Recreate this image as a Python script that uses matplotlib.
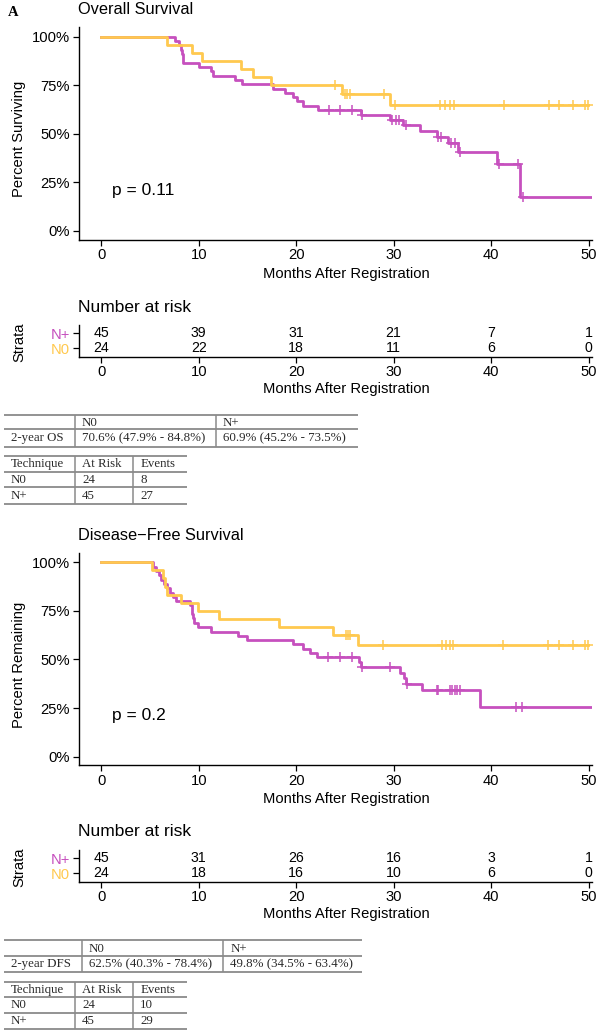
import numpy as np
import matplotlib.pyplot as plt

plt.rcParams["font.family"] = ["Liberation Sans", "DejaVu Sans"]

W, H = 600, 1032
YELLOW = "#FFC94F"
MAGENTA = "#C650BE"

# overall survival curves (step times / survival levels)
os_n0_time = [0, 6.7, 9.3, 10.3, 14.3, 15.6, 17.4, 24.7, 29.6]
os_n0_surv = [1.0, 0.958, 0.917, 0.875, 0.833, 0.792, 0.750, 0.706, 0.647]
os_n0_end = 49.9
os_n0_cens = [24.0, 25.0, 25.2, 25.5, 29.0, 30.1, 34.8, 35.3, 35.8, 36.2,
              41.3, 45.9, 47.0, 48.4, 49.6, 49.9]

os_np_time = [0, 7.6, 8.0, 8.2, 8.3, 8.35, 8.4, 10.0, 11.3, 11.45, 13.7, 14.4,
              17.6, 18.8, 19.7, 20.05, 20.7, 22.2, 26.6, 29.6, 31.0, 32.7,
              34.4, 35.6, 36.6, 40.6, 43.0]
os_np_surv = [1.0, 0.978, 0.956, 0.933, 0.911, 0.889, 0.867, 0.844, 0.822,
              0.800, 0.778, 0.756, 0.733, 0.711, 0.689, 0.667, 0.644, 0.622,
              0.597, 0.573, 0.546, 0.515, 0.484, 0.452, 0.405, 0.347, 0.174]
os_np_end = 50.5
os_np_cens = [23.4, 24.5, 25.7, 26.8, 29.8, 30.2, 30.5, 31.3, 34.6, 34.9,
              35.9, 36.3, 36.8, 40.8, 42.8, 43.3]

# disease-free survival curves
dfs_n0_time = [0, 5.2, 6.3, 6.55, 6.75, 8.2, 9.9, 12.1, 18.2, 23.8, 26.3]
dfs_n0_surv = [1.0, 0.958, 0.917, 0.875, 0.833, 0.792, 0.750, 0.708, 0.667,
               0.625, 0.573]
dfs_n0_end = 49.9
dfs_n0_cens = [25.1, 25.3, 25.5, 28.9, 35.0, 35.4, 35.8, 36.1, 41.2, 45.8,
               47.0, 48.4, 49.6, 49.9]

dfs_np_time = [0, 5.3, 5.6, 5.9, 6.1, 6.4, 6.7, 7.0, 7.3, 7.7, 9.1, 9.3, 9.35,
               9.4, 9.5, 9.95, 11.3, 14.06, 14.9, 19.7, 20.7, 21.4, 22.1, 26.4,
               26.6, 30.66, 31.1, 31.3, 32.9, 38.9]
dfs_np_surv = [1.0, 0.978, 0.956, 0.933, 0.911, 0.889, 0.867, 0.844, 0.822,
               0.800, 0.778, 0.756, 0.733, 0.711, 0.689, 0.667, 0.644, 0.622,
               0.600, 0.578, 0.556, 0.533, 0.511, 0.486, 0.460, 0.431, 0.403,
               0.374, 0.343, 0.257]
dfs_np_end = 50.5
dfs_np_cens = [23.3, 24.5, 25.7, 26.7, 29.6, 31.4, 34.4, 34.6, 35.8, 36.0,
               36.3, 36.5, 36.8, 42.6, 43.2]

# number at risk
risk_times = [0, 10, 20, 30, 40, 50]
os_risk_np = [45, 39, 31, 21, 7, 1]
os_risk_n0 = [24, 22, 18, 11, 6, 0]
dfs_risk_np = [45, 31, 26, 16, 3, 1]
dfs_risk_n0 = [24, 18, 16, 10, 6, 0]

# summary tables
os_2yr_rows = [["", "N0", "N+"],
               ["2-year OS", "70.6% (47.9% - 84.8%)", "60.9% (45.2% - 73.5%)"]]
os_count_rows = [["Technique", "At Risk", "Events"],
                 ["N0", "24", "8"], ["N+", "45", "27"]]
dfs_2yr_rows = [["", "N0", "N+"],
                ["2-year DFS", "62.5% (40.3% - 78.4%)", "49.8% (34.5% - 63.4%)"]]
dfs_count_rows = [["Technique", "At Risk", "Events"],
                  ["N0", "24", "10"], ["N+", "45", "29"]]

FS = 10.6
AX_L, AX_R = 78.5, 592.4
XLIM = (-2.35, 50.4)

fig = plt.figure(figsize=(W / 100, H / 100), dpi=100)


def add_ax(top, bottom):
    return fig.add_axes([AX_L / W, 1 - bottom / H, (AX_R - AX_L) / W,
                         (bottom - top) / H])


def ftext(x, y, s, **kw):
    fig.text(x / W, 1 - y / H, s, **kw)


def draw_curve(ax, t, s, end, cens, color, z):
    ax.step(list(t) + [end], list(s) + [s[-1]], where="post", color=color,
            lw=2.0, zorder=z, clip_on=True)
    idx = np.searchsorted(t, cens, side="right") - 1
    ax.plot(cens, np.asarray(s)[idx], ls="none", marker="+", ms=6.5, mew=1.1,
            color=color, zorder=z)


def style_axes(ax):
    ax.set_xlim(*XLIM)
    ax.set_xticks(risk_times)
    for sp in ["top", "right"]:
        ax.spines[sp].set_visible(False)
    for sp in ["left", "bottom"]:
        ax.spines[sp].set_linewidth(1.0)
    ax.tick_params(length=4, width=0.9, labelsize=FS, pad=2, colors="black")


def km_panel(top, bottom, curves, ylabel, pval, title, title_y):
    ax = add_ax(top, bottom)
    for t, s, end, cens, color, z in curves:
        draw_curve(ax, t, s, end, cens, color, z)
    style_axes(ax)
    ax.set_ylim(-0.045, 1.05)
    ax.set_yticks([0, 0.25, 0.5, 0.75, 1.0])
    ax.set_yticklabels(["0%", "25%", "50%", "75%", "100%"])
    ax.text(1.1, 0.21, pval, fontsize=12.5, va="center", ha="left")
    ftext(AX_L, title_y, title, fontsize=11.8, va="center", ha="left")
    ftext(19.5, (top + bottom) / 2 + 6, ylabel, fontsize=FS, rotation=90,
          va="center", ha="center")
    ftext(346, bottom + 34, "Months After Registration", fontsize=FS,
          va="center", ha="center")
    return ax


def risk_panel(top, bottom, np_vals, n0_vals, title_y):
    ax = add_ax(top, bottom)
    style_axes(ax)
    ax.set_ylim(-0.6, 1.55)
    ax.set_yticks([0, 1])
    ax.set_yticklabels(["N0", "N+"])
    for lab, c in zip(ax.get_yticklabels(), [YELLOW, MAGENTA]):
        lab.set_color(c)
    for x, a, b in zip(risk_times, np_vals, n0_vals):
        ax.text(x, 1, str(a), ha="center", va="center", fontsize=10.2)
        ax.text(x, 0, str(b), ha="center", va="center", fontsize=10.2)
    ftext(AX_L, title_y, "Number at risk", fontsize=12.5, va="center",
          ha="left")
    ftext(19.5, (top + bottom) / 2 + 1, "Strata", fontsize=FS, rotation=90,
          va="center", ha="center")
    ftext(346, bottom + 32, "Months After Registration", fontsize=FS,
          va="center", ha="center")
    return ax


tab = fig.add_axes([0, 0, 1, 1])
tab.set_xlim(0, W)
tab.set_ylim(H, 0)
tab.axis("off")


def draw_table(rows, row_edges, col_edges):
    for y in row_edges:
        tab.hlines(y, col_edges[0], col_edges[-1], color="#8a8a8a", lw=1.3)
    for x in col_edges[1:-1]:
        tab.vlines(x, row_edges[0], row_edges[-1], color="#8a8a8a", lw=1.1)
    for i, row in enumerate(rows):
        yc = (row_edges[i] + row_edges[i + 1]) / 2
        for j, cell in enumerate(row):
            tab.text(col_edges[j] + 7, yc + 0.5, cell, fontsize=9.3,
                     family=["Liberation Serif", "DejaVu Serif"],
                     color="#2a2a2a", va="center", ha="left")


ftext(8, 13, "A", fontsize=10.5, fontweight="bold",
      family=["Liberation Serif", "DejaVu Serif"], va="center", ha="left")

km_panel(27.0, 239.7,
         [(os_np_time, os_np_surv, os_np_end, os_np_cens, MAGENTA, 2),
          (os_n0_time, os_n0_surv, os_n0_end, os_n0_cens, YELLOW, 3)],
         "Percent Surviving", "p = 0.11", "Overall Survival", 10)
risk_panel(325, 357, os_risk_np, os_risk_n0, 307)
draw_table(os_2yr_rows, [415, 429, 446.5], [4, 75, 216, 358])
draw_table(os_count_rows, [456, 471.5, 487, 503.5], [4, 75, 133.3, 186.7])

km_panel(552.6, 765.4,
         [(dfs_np_time, dfs_np_surv, dfs_np_end, dfs_np_cens, MAGENTA, 2),
          (dfs_n0_time, dfs_n0_surv, dfs_n0_end, dfs_n0_cens, YELLOW, 3)],
         "Percent Remaining", "p = 0.2", "Disease\u2212Free Survival", 535)
risk_panel(850, 882, dfs_risk_np, dfs_risk_n0, 832)
draw_table(dfs_2yr_rows, [940, 956, 971.7], [4, 81.7, 223.3, 361.7])
draw_table(dfs_count_rows, [981.7, 996.5, 1012.5, 1028.5],
           [4, 75, 133.3, 186.7])

fig.savefig("out.png", dpi=100)
